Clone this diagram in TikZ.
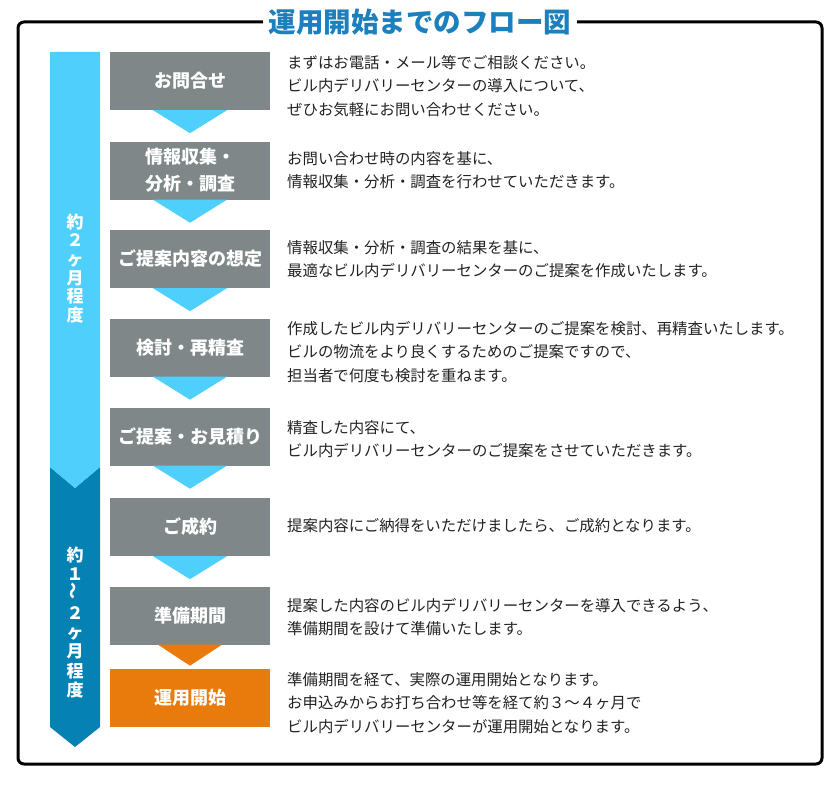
\documentclass[tikz,border=0pt]{standalone}
\usepackage{fontspec}
\setmainfont{Noto Sans CJK JP}
\usepackage{graphicx}
\definecolor{boxgray}{HTML}{7F8789}
\definecolor{lightblue}{HTML}{4FCFFB}
\definecolor{darkblue}{HTML}{0581B3}
\definecolor{stepor}{HTML}{E97A0C}
\definecolor{titleblue}{HTML}{1C80BE}
\definecolor{textc}{HTML}{222222}
\newcommand\flowtri[2]{\fill[#2] (#1.south) ++(-37,0) -- ++(74,0) -- ++(-37,23) -- cycle;}
\begin{document}
\begin{tikzpicture}[x=1pt,y=-1pt,
  stepbox/.style={fill=boxgray, text=white, font=\bfseries\fontsize{18}{27}\selectfont, minimum width=160pt, minimum height=58pt, inner sep=0pt, align=center},
  desc/.style={anchor=west, align=left, font=\fontsize{15.4}{23.5}\selectfont, text=textc, inner sep=0pt},
  vlabel/.style={text=white, align=center, inner sep=0pt, font=\bfseries\fontsize{17}{18.7}\selectfont}]
\useasboundingbox (0,0) rectangle (840,784);
% outer frame
\draw[line width=3pt, rounded corners=6pt] (18,22) rectangle (822,764);
\node[fill=white, text=titleblue, font=\bfseries\fontsize{27.5}{30}\selectfont, inner xsep=6pt, inner ysep=0pt] (title) at (420,22) {運用開始までのフロー図};
% left period bar
\fill[darkblue] (50,467) -- (75,488) -- (100,467) -- (100,727) -- (75,747) -- (50,727) -- cycle;
\fill[lightblue] (50,52) -- (100,52) -- (100,467) -- (75,488) -- (50,467) -- cycle;
\node[vlabel] (p1) at (75,268.5) {約\\２\\ヶ\\月\\程\\度};
\node[vlabel, font=\bfseries\fontsize{17}{19.3}\selectfont] (p2) at (75,622.5) {約\\１\\\rotatebox{90}{～}\\２\\ヶ\\月\\程\\度};
% steps
\node[stepbox] (s1) at (190,81) {お問合せ};
\node[stepbox] (s2) at (190,170.5) {情報収集・\\分析・調査};
\node[stepbox] (s3) at (190,259) {ご提案内容の想定};
\node[stepbox] (s4) at (190,347.5) {検討・再精査};
\node[stepbox] (s5) at (190,436.5) {ご提案・お見積り};
\node[stepbox] (s6) at (190,527) {ご成約};
\node[stepbox] (s7) at (190,615.5) {準備期間};
\node[stepbox, fill=stepor] (s8) at (190,698) {運用開始};
\flowtri{s1}{lightblue}
\flowtri{s2}{lightblue}
\flowtri{s3}{lightblue}
\flowtri{s4}{lightblue}
\flowtri{s5}{lightblue}
\flowtri{s6}{lightblue}
\fill[stepor] (s7.south) ++(-32,0) -- ++(64,0) -- ++(-32,21) -- cycle;
% descriptions
\node[desc] (d1) at (287,86) {まずはお電話・メール等でご相談ください。\\ビル内デリバリーセンターの導入について、\\ぜひお気軽にお問い合わせください。};
\node[desc] (d2) at (287,170) {お問い合わせ時の内容を基に、\\情報収集・分析・調査を行わせていただきます。};
\node[desc] (d3) at (287,259) {情報収集・分析・調査の結果を基に、\\最適なビル内デリバリーセンターのご提案を作成いたします。};
\node[desc] (d4) at (287,352) {作成したビル内デリバリーセンターのご提案を検討、再精査いたします。\\ビルの物流をより良くするためのご提案ですので、\\担当者で何度も検討を重ねます。};
\node[desc] (d5) at (287,439) {精査した内容にて、\\ビル内デリバリーセンターのご提案をさせていただきます。};
\node[desc] (d6) at (287,526) {提案内容にご納得をいただけましたら、ご成約となります。};
\node[desc] (d7) at (287,617) {提案した内容のビル内デリバリーセンターを導入できるよう、\\準備期間を設けて準備いたします。};
\node[desc] (d8) at (287,703) {準備期間を経て、実際の運用開始となります。\\お申込みからお打ち合わせ等を経て約３～４ヶ月で\\ビル内デリバリーセンターが運用開始となります。};
\end{tikzpicture}
\end{document}
